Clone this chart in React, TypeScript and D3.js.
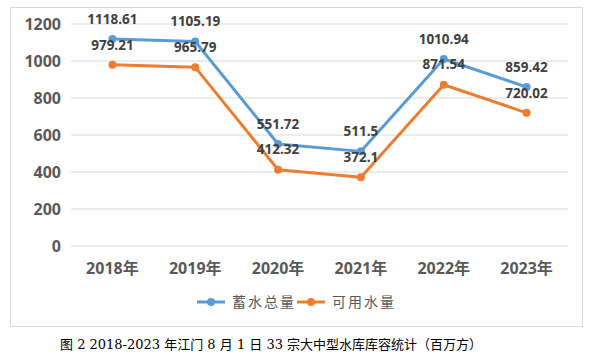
import React from "react";
import * as d3 from "d3";

const categories = ["2018年", "2019年", "2020年", "2021年", "2022年", "2023年"];
const totalStorage = [1118.61, 1105.19, 551.72, 511.5, 1010.94, 859.42];
const usableWater = [979.21, 965.79, 412.32, 372.1, 871.54, 720.02];
const yTicks = [0, 200, 400, 600, 800, 1000, 1200];
const seriesNames = ["蓄水总量", "可用水量"];
const colors = ["#5B9BD5", "#ED7D31"];
const caption = "图 2  2018-2023 年江门 8 月 1 日 33 宗大中型水库库容统计（百万方）";

export default function App() {
  const W = 594, H = 359;
  const x = d3.scaleBand().domain(categories).range([71, 568]);
  const y = d3.scaleLinear().domain([0, 1200]).range([246, 24]);
  const line = d3
    .line<number>()
    .x((_, i) => (x(categories[i]) as number) + x.bandwidth() / 2)
    .y((d) => y(d));
  const series = [totalStorage, usableWater];
  const font = "'Open Sans', 'Noto Sans CJK SC', sans-serif";
  return (
    <svg
      width={W}
      height={H}
      style={{ position: "absolute", left: 0, top: 0, background: "#fff" }}
    >
      <rect x={10.5} y={7.5} width={572} height={319} fill="#fff" stroke="#d9d9d9" />
      {yTicks.map((t) => (
        <g key={t}>
          <line x1={71} x2={568} y1={y(t)} y2={y(t)} stroke="#d9d9d9" strokeWidth={1} />
          <text
            x={61}
            y={y(t)}
            dy="0.35em"
            textAnchor="end"
            fontFamily={font}
            fontWeight="bold"
            fontSize={16}
            fill="#595959"
          >
            {t}
          </text>
        </g>
      ))}
      {categories.map((c) => (
        <text
          key={c}
          x={(x(c) as number) + x.bandwidth() / 2}
          y={268}
          dy="0.35em"
          textAnchor="middle"
          fontFamily={font}
          fontWeight="bold"
          fontSize={16}
          fill="#595959"
        >
          {c}
        </text>
      ))}
      {series.map((s, si) => (
        <g key={si}>
          <path d={line(s) || ""} fill="none" stroke={colors[si]} strokeWidth={3} strokeLinejoin="round" />
          {s.map((v, i) => (
            <circle
              key={i}
              cx={(x(categories[i]) as number) + x.bandwidth() / 2}
              cy={y(v)}
              r={4}
              fill={colors[si]}
            />
          ))}
        </g>
      ))}
      {series.map((s, si) =>
        s.map((v, i) => (
          <text
            key={si + "-" + i}
            x={(x(categories[i]) as number) + x.bandwidth() / 2}
            y={y(v) - 20}
            dy="0.35em"
            textAnchor="middle"
            fontFamily={font}
            fontWeight="bold"
            fontSize={13.5}
            fill="#404040"
          >
            {v}
          </text>
        ))
      )}
      {seriesNames.map((n, i) => {
        const lx = i === 0 ? 197 : 297;
        return (
          <g key={n}>
            <line x1={lx} x2={lx + 28} y1={302} y2={302} stroke={colors[i]} strokeWidth={3} />
            <circle cx={lx + 14} cy={302} r={4} fill={colors[i]} />
            <text
              x={lx + 35}
              y={302}
              dy="0.35em"
              fontFamily={font}
              fontSize={14}
              fill="#595959"
              letterSpacing={2}
            >
              {n}
            </text>
          </g>
        );
      })}
      <text
        x={60}
        y={344}
        dy="0.35em"
        fontFamily="'DejaVu Serif', 'Noto Sans CJK SC', serif"
        fontSize={13}
        fill="#000"
      >
        {caption}
      </text>
    </svg>
  );
}
